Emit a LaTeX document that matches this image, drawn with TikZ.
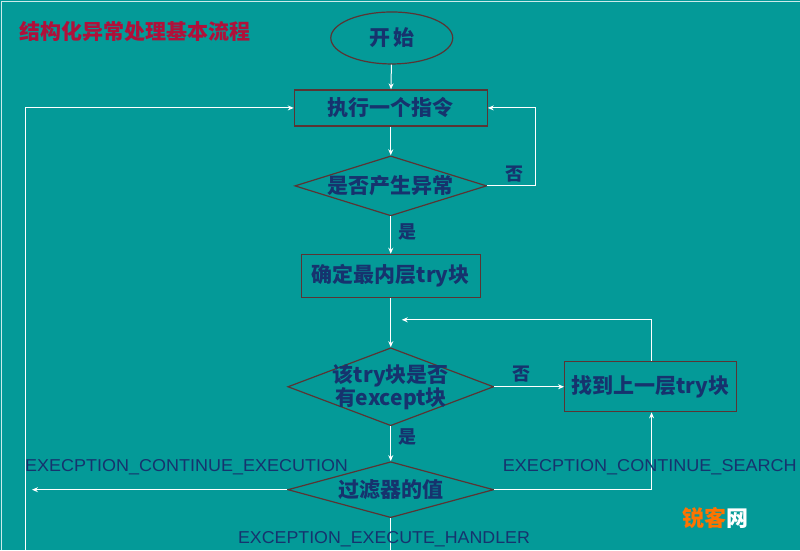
\documentclass[tikz,border=0pt]{standalone}
\usepackage{fontspec}
\setmainfont{Noto Sans CJK SC}
\newfontfamily\lab{Liberation Sans}
\usetikzlibrary{shapes.geometric,arrows.meta}
\definecolor{bg}{HTML}{049A98}
\definecolor{ink}{HTML}{16336E}
\definecolor{edge}{HTML}{5A3434}
\definecolor{ttl}{HTML}{B0103A}
\begin{document}
\begin{tikzpicture}[x=1pt,y=-1pt,
 box/.style={draw=edge,line width=1.2pt,rectangle,inner sep=0pt,text=ink,font=\fontsize{21}{23}\selectfont\bfseries},
 dia/.style={draw=edge,line width=1.2pt,diamond,aspect=3.2,inner sep=0pt,text=ink,font=\fontsize{21}{23}\selectfont\bfseries},
 ln/.style={draw=white,line width=1pt},
 ar/.style={ln,-{Stealth[length=6pt,width=5pt]}},
 yn/.style={text=ink,font=\fontsize{18}{20}\selectfont\bfseries},
 el/.style={text=ink,inner sep=0pt}]
\fill[bg] (0,0) rectangle (800,550);
\draw[white!80!bg,line width=1pt] (1.5,550) -- (1.5,1.5) -- (800,1.5);
\useasboundingbox (0,0) rectangle (800,550);
\node[text=ttl,font=\fontsize{21}{22}\selectfont\bfseries,anchor=west] (title) at (16,32) {结构化异常处理基本流程};
\node[draw=edge,line width=1.2pt,ellipse,minimum width=122pt,minimum height=52pt,text=ink,font=\fontsize{21}{23}\selectfont\bfseries] (start) at (392,38) {开\,始};
\node[box,minimum width=193pt,minimum height=36pt] (exec) at (391,108) {执行一个指令};
\node[dia,minimum width=192pt,minimum height=60pt] (d1) at (391,186) {是否产生异常};
\node[box,minimum width=179pt,minimum height=43pt] (inner) at (391,276) {确定最内层try块};
\node[dia,minimum width=206pt,minimum height=78pt,inner xsep=-34pt,inner ysep=-12pt,align=center] (d2) at (391,387) {该try块是否\\有except块};
\node[box,minimum width=172pt,minimum height=50pt] (up) at (651,387) {找到上一层try块};
\node[dia,minimum width=206pt,minimum height=56pt] (d3) at (391,490) {过滤器的值};
\coordinate (c1) at (536,186); \coordinate (c2) at (536,108);
\coordinate (c3) at (652,320); \coordinate (c4) at (402,320);
\coordinate (c5) at (32,490); \coordinate (c6) at (652,490);
\coordinate (c7) at (391,550); \coordinate (c8) at (26,550); \coordinate (c9) at (26,108);
\draw[ar] (start) -- (exec);
\draw[ar] (exec) -- (d1);
\draw[ar] (d1.east) -- (c1) -- (c2) -- (exec.east);
\draw[ar] (d1) -- (inner);
\draw[ar] (inner) -- (d2);
\draw[ar] (up.north -| c3) -- (c3) -- (c4);
\draw[ar] (d2.east) -- (up.west);
\draw[ar] (d2) -- (d3);
\draw[ar] (d3.west) -- (c5);
\draw[ar] (d3.east) -- (c6) -- (up.south -| c6);
\draw[ln] (d3.south) -- (c7);
\draw[ar] (c8) -- (c9) -- (exec.west);
\node[yn] (n1) at (515,174) {否};
\node[yn] (y1) at (408,232) {是};
\node[yn] (n2) at (522,374) {否};
\node[yn] (y2) at (408,437) {是};
\node[el,anchor=west] (l1) at (25,468) {\resizebox{323pt}{12pt}{\lab EXECPTION\_CONTINUE\_EXECUTION}};
\node[el,anchor=west] (l2) at (503,468) {\resizebox{294pt}{12pt}{\lab EXECPTION\_CONTINUE\_SEARCH}};
\node[el,anchor=west] (l3) at (238,540) {\resizebox{292pt}{12pt}{\lab EXCEPTION\_EXECUTE\_HANDLER}};
\node[text=orange!90!red,font=\fontsize{22}{24}\selectfont\bfseries,inner sep=0pt] (wm) at (716,518) {锐客\textcolor{white}{网}};
\end{tikzpicture}
\end{document}
